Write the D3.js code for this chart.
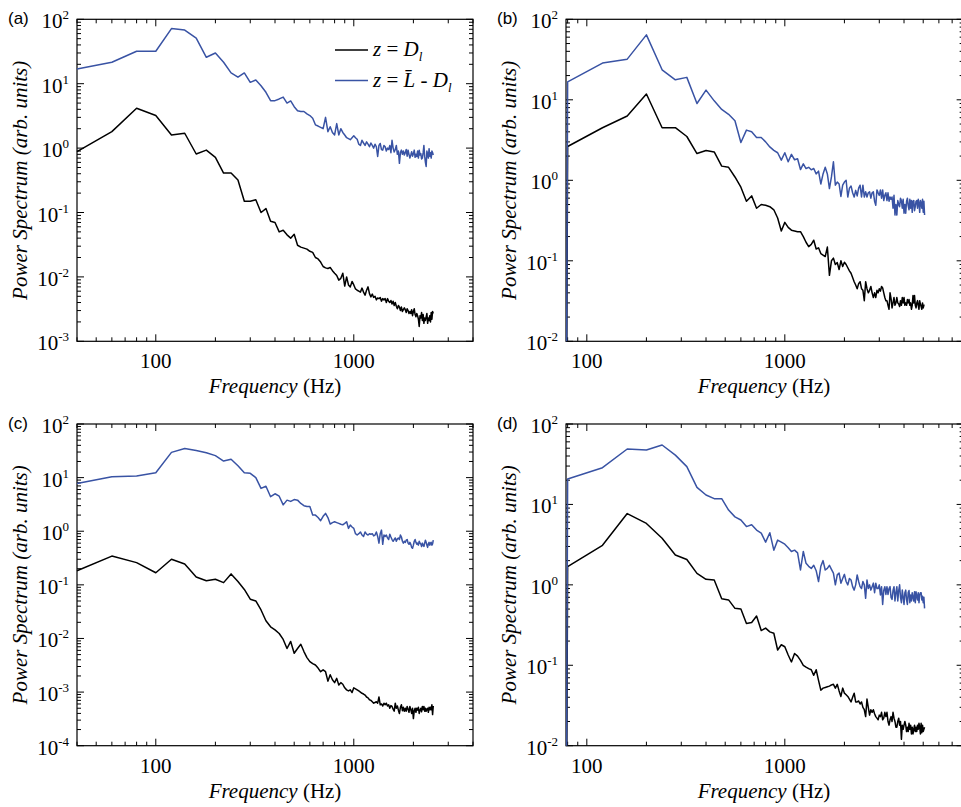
<!DOCTYPE html>
<html><head><meta charset="utf-8">
<script src="https://cdn.jsdelivr.net/npm/d3@7"></script>
<style>body{margin:0;background:#fff}svg{display:block}
.serif{font-family:"Liberation Serif","DejaVu Serif",serif}
.sans{font-family:"Liberation Sans","DejaVu Sans",sans-serif}
</style>
</head><body>
<svg id="chart" width="961" height="807"></svg>
<script>
// ---------- DATA ----------
// Frequency grids (Hz)
const freqAC = d3.range(40, 2521, 20);   // panels (a) and (c)
const freqBD = d3.range(80, 5081, 40);   // panels (b) and (d)
// lowest (near-DC) bin for panels (b),(d): drops off the plot
const dcFreqBD = 78;
const dcValueBD = 1e-6;

const aBlack = [
0.88,1.8,4.15,3.2,1.6,1.7,0.81,0.93,0.72,0.41,
0.41,0.32,0.15,0.15,0.158,0.1,0.115,0.073,0.07,0.05,
0.053,0.045,0.04,0.046,0.031,0.029,0.028,0.027,0.025,0.024,
0.02,0.019,0.017,0.0145,0.0138,0.0135,0.014,0.0125,0.0114,0.0105,
0.0089,0.0095,0.0114,0.0072,0.01,0.0075,0.007,0.0085,0.0075,0.0065,
0.0062,0.006,0.0058,0.0067,0.0058,0.0052,0.0062,0.007,0.0055,0.0049,
0.0054,0.0048,0.005,0.0044,0.0047,0.0046,0.0048,0.0042,0.0046,0.0044,
0.0046,0.004,0.0046,0.0042,0.004,0.0043,0.0038,0.0042,0.0036,0.004,
0.0035,0.0032,0.0036,0.0034,0.003,0.0034,0.0029,0.0031,0.0033,0.0031,
0.0028,0.0032,0.003,0.0027,0.0029,0.0027,0.0031,0.0025,0.0029,0.0032,
0.0026,0.0024,0.0027,0.0025,0.0022,0.0017,0.0025,0.0023,0.0028,0.0021,
0.0026,0.0019,0.0023,0.0021,0.0024,0.0027,0.0019,0.0023,0.0021,0.0025,
0.002,0.0028,0.0022,0.0029,0.0027];
const aBlue = [
16.9,21.5,31.9,31.9,71.8,68,51,25.7,30,21.5,
14.7,12.6,14.7,10.5,11.4,9.3,7.35,5.45,5.45,5.8,
6.2,5.0,5.4,4.4,3.8,3.7,3.7,3.4,3.2,2.9,
2.3,2.2,2.1,2.0,3.0,1.8,2.15,1.75,1.6,2.4,
1.6,2.0,1.75,1.6,1.45,1.4,1.35,1.45,1.55,1.45,
1.37,1.15,1.1,1.32,1.2,1.1,1.25,1.15,1.05,1.2,
1.1,1.0,1.15,1.05,0.74,1.1,1.18,0.95,0.93,1.1,
1.05,0.9,1.0,0.95,1.1,0.85,1.32,1.0,0.87,0.95,
1.1,0.8,0.9,0.58,0.85,0.93,0.8,0.9,0.78,0.85,
0.95,0.75,0.93,0.8,0.7,0.78,0.88,0.75,0.82,0.93,
0.72,0.8,0.74,0.9,0.7,0.93,0.78,0.82,0.68,0.7,
0.85,1.1,0.75,0.6,0.52,0.9,0.8,0.7,0.98,0.75,
0.85,0.7,0.9,0.85,0.78];

const bBlack = [
2.63,4.5,6.3,11.8,4.5,4.5,3.5,2.15,2.35,2.25,
1.5,1.45,1.1,0.82,0.55,0.64,0.45,0.5,0.49,0.47,
0.43,0.34,0.235,0.3,0.26,0.24,0.235,0.23,0.23,0.2,
0.17,0.15,0.16,0.18,0.14,0.145,0.123,0.118,0.113,0.148,
0.066,0.1,0.108,0.09,0.095,0.078,0.1,0.085,0.096,0.09,
0.082,0.075,0.07,0.062,0.055,0.05,0.045,0.052,0.055,0.045,
0.043,0.032,0.055,0.045,0.04,0.043,0.048,0.04,0.035,0.04,
0.035,0.043,0.04,0.045,0.042,0.048,0.046,0.04,0.035,0.032,
0.032,0.028,0.025,0.04,0.034,0.026,0.03,0.035,0.028,0.03,
0.035,0.03,0.029,0.027,0.032,0.028,0.035,0.03,0.035,0.028,
0.03,0.028,0.033,0.03,0.033,0.028,0.03,0.025,0.028,0.037,
0.03,0.037,0.028,0.026,0.03,0.032,0.028,0.025,0.032,0.029,
0.027,0.025,0.03,0.026,0.028,0.028];
const bBlue = [
16.7,28.6,32,64,23.6,17.7,19,9.0,13.2,9.7,
7.6,6.6,5.5,2.95,4.2,4.0,3.4,3.4,3.0,2.6,
2.35,2.2,1.78,2.2,1.7,2.1,1.8,1.85,1.36,1.6,
1.4,1.45,1.35,1.4,1.2,1.3,0.9,1.2,1.45,1.2,
0.79,1.1,1.7,0.87,0.95,0.9,0.63,0.87,0.95,1.0,
0.62,0.8,0.85,0.7,0.62,0.75,0.64,0.8,0.87,0.62,
0.87,0.62,0.72,0.62,0.7,0.72,0.6,0.7,0.72,0.55,
0.49,0.76,0.7,0.65,0.76,0.6,0.76,0.56,0.65,0.7,
0.56,0.7,0.55,0.62,0.58,0.62,0.45,0.65,0.37,0.5,
0.37,0.56,0.5,0.47,0.6,0.56,0.45,0.58,0.39,0.5,
0.39,0.55,0.6,0.48,0.43,0.58,0.45,0.56,0.4,0.55,
0.56,0.42,0.47,0.55,0.56,0.45,0.58,0.52,0.4,0.56,
0.52,0.45,0.58,0.4,0.55,0.37];

const cBlack = [
0.183,0.344,0.26,0.168,0.3,0.244,0.14,0.119,0.127,0.11,
0.16,0.115,0.082,0.054,0.05,0.034,0.0214,0.0165,0.0145,0.0124,
0.0096,0.0065,0.0088,0.0053,0.0065,0.0078,0.0057,0.0044,0.0037,0.0034,
0.0032,0.0028,0.0024,0.0026,0.0024,0.0016,0.0021,0.0017,0.0015,0.0018,
0.00136,0.0015,0.0014,0.0012,0.0011,0.00105,0.0011,0.00098,0.0012,0.00115,
0.0011,0.00105,0.001,0.00095,0.00092,0.00088,0.00081,0.00078,0.00072,0.0007,
0.00066,0.00062,0.00064,0.00066,0.00062,0.00081,0.00058,0.0006,0.00055,0.00062,
0.00058,0.00062,0.00055,0.00058,0.0005,0.00056,0.00054,0.00048,0.00044,0.00062,
0.0005,0.00055,0.00046,0.0004,0.00052,0.00058,0.00045,0.00052,0.00044,0.0005,
0.00044,0.00054,0.00048,0.00042,0.00054,0.00047,0.0004,0.0005,0.00032,0.00045,
0.0005,0.00042,0.0005,0.00046,0.00052,0.0004,0.00046,0.0005,0.00043,0.00054,
0.00047,0.00054,0.00044,0.0005,0.00044,0.00048,0.0005,0.00042,0.00052,0.00047,
0.00052,0.00047,0.00058,0.00038,0.00055];
const cBlue = [
7.8,10.4,10.7,12.3,29.6,35,32,29,25.7,20.4,
22,16.6,12.3,12,10,6.3,6.9,4.4,5.0,4.5,
3.1,3.8,3.6,3.9,3.8,3.3,3.0,2.9,2.9,2.0,
2.0,1.8,1.57,1.9,2.15,1.8,1.36,1.45,1.5,1.45,
1.4,1.35,1.32,1.4,1.5,1.13,1.3,1.2,1.13,0.9,
0.85,0.9,0.97,0.85,0.8,0.97,0.88,0.85,0.9,0.88,
0.9,0.82,0.85,0.97,0.8,0.6,0.9,1.05,0.57,0.85,
0.8,0.85,0.75,0.7,0.88,0.78,0.7,0.65,0.7,0.75,
0.65,0.72,0.75,0.7,0.85,0.78,0.65,0.6,0.65,0.62,
0.68,0.7,0.6,0.57,0.62,0.57,0.5,0.48,0.55,0.65,
0.7,0.62,0.57,0.6,0.55,0.65,0.6,0.58,0.52,0.6,
0.55,0.52,0.6,0.68,0.62,0.55,0.5,0.58,0.62,0.55,
0.6,0.62,0.55,0.58,0.68];

const dBlack = [
1.68,3.1,7.7,5.8,3.8,2.35,2.07,1.39,1.17,1.15,
0.67,0.65,0.51,0.5,0.33,0.34,0.41,0.27,0.29,0.26,
0.25,0.155,0.18,0.17,0.134,0.11,0.14,0.13,0.115,0.1,
0.095,0.091,0.088,0.075,0.088,0.065,0.049,0.052,0.053,0.054,
0.055,0.057,0.058,0.052,0.058,0.048,0.041,0.052,0.045,0.043,
0.041,0.038,0.035,0.04,0.045,0.035,0.035,0.036,0.033,0.035,
0.03,0.028,0.023,0.038,0.03,0.024,0.028,0.026,0.028,0.025,
0.023,0.022,0.021,0.024,0.023,0.026,0.021,0.022,0.026,0.023,
0.026,0.02,0.018,0.021,0.023,0.02,0.026,0.022,0.02,0.017,
0.017,0.02,0.022,0.018,0.02,0.012,0.018,0.016,0.018,0.02,
0.018,0.015,0.017,0.015,0.019,0.016,0.018,0.014,0.017,0.014,
0.016,0.018,0.015,0.017,0.015,0.018,0.016,0.019,0.017,0.014,
0.019,0.0145,0.018,0.015,0.016,0.017];
const dBlue = [
20.7,28.6,48.9,47.5,54.8,41,29.5,16.3,13.1,11.8,
11.8,8.5,7.0,6.4,5.3,5.6,4.8,4.4,3.4,4.45,
2.7,3.6,3.4,3.2,2.9,2.6,2.7,2.5,1.53,2.6,
1.85,1.7,1.6,1.75,1.5,1.1,1.7,2.0,1.53,1.6,
1.75,1.56,1.4,1.0,1.33,1.4,1.05,1.2,1.35,1.1,
1.0,1.2,1.15,0.95,0.86,1.0,1.33,1.1,0.95,0.9,
1.1,1.0,0.68,1.15,0.9,1.0,0.86,0.95,1.05,0.8,
1.05,0.9,0.9,1.0,0.75,0.95,0.57,0.85,0.95,0.76,
0.95,0.76,0.9,0.95,0.7,0.66,0.85,0.95,0.63,0.8,
0.95,0.63,0.85,1.0,0.7,0.6,0.86,0.7,0.57,0.8,
0.86,0.65,0.57,0.8,0.85,0.6,0.75,0.63,0.8,0.7,
0.63,0.82,0.6,0.82,0.72,0.65,0.8,0.6,0.75,0.8,
0.8,0.65,0.72,0.6,0.7,0.51];

const panelLabels = ["(a)", "(b)", "(c)", "(d)"];
const xTickLabelValues = [100, 1000];
const xTitle = ["Frequency", " (Hz)"];
const yTitle = "Power Spectrum (arb. units)";

// ---------- LAYOUT ----------
const BLUE = "#3953a4";
const DECADE_X = 198;
const panels = [
  {label: panelLabels[0], freq: freqAC, black: aBlack, blue: aBlue, dc: false,
   xDom: [40, 4000], yDom: [1e-3, 1e2], left: 77, top: 19.3, bottom: 341.3, showLegend: true},
  {label: panelLabels[1], freq: freqBD, black: bBlack, blue: bBlue, dc: true,
   xDom: [78.5, 8000], yDom: [1e-2, 1e2], left: 566, top: 19.3, bottom: 341.3},
  {label: panelLabels[2], freq: freqAC, black: cBlack, blue: cBlue, dc: false,
   xDom: [40, 4000], yDom: [1e-4, 1e2], left: 77, top: 424, bottom: 745.7},
  {label: panelLabels[3], freq: freqBD, black: dBlack, blue: dBlue, dc: true,
   xDom: [78.5, 8000], yDom: [1e-2, 1e2], left: 566, top: 424, bottom: 745.7}
];

const svg = d3.select("#chart");

function logTicks(dom) {
  const out = [];
  const lo = Math.floor(Math.log10(dom[0])), hi = Math.ceil(Math.log10(dom[1]));
  for (let e = lo; e <= hi; e++) for (let k = 1; k <= 9; k++) {
    const v = k * Math.pow(10, e);
    if (v >= dom[0] * 0.9999 && v <= dom[1] * 1.0001) out.push({v, major: k === 1});
  }
  return out;
}

panels.forEach((p, i) => {
  const right = p.left + DECADE_X * Math.log10(p.xDom[1] / p.xDom[0]);
  const x = d3.scaleLog().domain(p.xDom).range([p.left, right]);
  const y = d3.scaleLog().domain(p.yDom).range([p.bottom, p.top]);
  const g = svg.append("g");

  const clipId = "clip" + i;
  svg.append("defs").append("clipPath").attr("id", clipId)
    .append("rect").attr("x", p.left - 1).attr("y", p.top)
    .attr("width", right - p.left + 1).attr("height", p.bottom - p.top);

  // frame
  g.append("rect").attr("x", p.left).attr("y", p.top)
    .attr("width", right - p.left).attr("height", p.bottom - p.top)
    .attr("fill", "none").attr("stroke", "#000").attr("stroke-width", 1.2);

  // x ticks (bottom + top, inward)
  logTicks(p.xDom).forEach(t => {
    const len = t.major ? 7 : 4;
    const xx = x(t.v);
    g.append("line").attr("x1", xx).attr("x2", xx).attr("y1", p.bottom).attr("y2", p.bottom - len)
      .attr("stroke", "#000").attr("stroke-width", 1);
    g.append("line").attr("x1", xx).attr("x2", xx).attr("y1", p.top).attr("y2", p.top + len)
      .attr("stroke", "#000").attr("stroke-width", 1);
  });
  // y ticks (left + right, inward)
  logTicks(p.yDom).forEach(t => {
    const len = t.major ? 7 : 4;
    const yy = y(t.v);
    g.append("line").attr("x1", p.left).attr("x2", p.left + len).attr("y1", yy).attr("y2", yy)
      .attr("stroke", "#000").attr("stroke-width", 1);
    g.append("line").attr("x1", right).attr("x2", right - len).attr("y1", yy).attr("y2", yy)
      .attr("stroke", "#000").attr("stroke-width", 1);
  });

  const line = d3.line().x(d => x(d[0])).y(d => y(d[1]));
  const mk = vals => {
    const pts = p.freq.map((f, j) => [f, vals[j]]).filter(d => d[1] != null);
    if (p.dc) pts.unshift([dcFreqBD, dcValueBD]);
    return pts;
  };
  const lg = g.append("g").attr("clip-path", `url(#${clipId})`);
  lg.append("path").attr("d", line(mk(p.black))).attr("fill", "none")
    .attr("stroke", "#000").attr("stroke-width", 1.5).attr("stroke-linejoin", "round");
  lg.append("path").attr("d", line(mk(p.blue))).attr("fill", "none")
    .attr("stroke", BLUE).attr("stroke-width", 1.5).attr("stroke-linejoin", "round");

  // y tick labels 10^n
  logTicks(p.yDom).filter(t => t.major).forEach(t => {
    const e = Math.round(Math.log10(t.v));
    const tx = g.append("text").attr("class", "serif").attr("x", p.left - 8).attr("y", y(t.v) + 9)
      .attr("text-anchor", "end").attr("font-size", 21);
    tx.append("tspan").text("10");
    tx.append("tspan").attr("dy", -9).attr("font-size", 13).text(String(e));
  });
  // x tick labels
  xTickLabelValues.filter(v => v >= p.xDom[0] && v <= p.xDom[1]).forEach(v => {
    g.append("text").attr("class", "serif").attr("x", x(v)).attr("y", p.bottom + 27)
      .attr("text-anchor", "middle").attr("font-size", 21).text(v);
  });

  // x title
  const cx = (p.left + Math.min(right, p.left + 396)) / 2;
  const xt = g.append("text").attr("class", "serif").attr("x", cx).attr("y", p.bottom + 52)
    .attr("text-anchor", "middle").attr("font-size", 21);
  xt.append("tspan").attr("font-style", "italic").text(xTitle[0]);
  xt.append("tspan").text(xTitle[1]);

  // y title
  const cy = (p.top + p.bottom) / 2;
  g.append("text").attr("class", "serif")
    .attr("transform", `translate(${p.left - 50},${cy}) rotate(-90)`)
    .attr("text-anchor", "middle").attr("font-size", 21).attr("font-style", "italic")
    .text(yTitle);

  // panel label
  g.append("text").attr("class", "sans").attr("x", p.left - 69).attr("y", p.top + 5)
    .attr("font-size", 17).text(p.label);

  // legend
  if (p.showLegend) {
    const items = [
      {c: "#000", parts: [["z", "it"], [" = ", ""], ["D", "it"], ["l", "sub"]]},
      {c: BLUE, parts: [["z", "it"], [" = ", ""], ["L\u0304", "it"], [" - ", ""], ["D", "it"], ["l", "sub"]]}
    ];
    items.forEach((it, k) => {
      const ly = 50 + k * 30.5;
      g.append("line").attr("x1", 335).attr("x2", 368).attr("y1", ly).attr("y2", ly)
        .attr("stroke", it.c).attr("stroke-width", 1.5);
      const t = g.append("text").attr("class", "serif").attr("x", 373).attr("y", ly + 6)
        .attr("font-size", 21);
      let sub = false;
      it.parts.forEach(([s, kind]) => {
        const ts = t.append("tspan").text(s);
        if (kind === "it" || kind === "sub") ts.attr("font-style", "italic");
        if (kind === "sub") { ts.attr("dy", 5).attr("font-size", 13); sub = true; }
        else if (sub) { ts.attr("dy", -5); sub = false; }
      });
    });
  }
});
</script>
</body></html>
